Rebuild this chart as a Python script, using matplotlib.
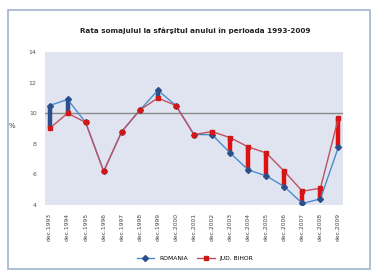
import matplotlib
matplotlib.use("Agg")
import matplotlib.pyplot as plt
from matplotlib.patches import Rectangle

# ---- data ----
years = ["dec.1993", "dec.1994", "dec.1995", "dec.1996", "dec.1997", "dec.1998",
         "dec.1999", "dec.2000", "dec.2001", "dec.2002", "dec.2003", "dec.2004",
         "dec.2005", "dec.2006", "dec.2007", "dec.2008", "dec.2009"]
romania = [10.5, 10.9, 9.4, 6.2, 8.8, 10.2, 11.5, 10.5, 8.6, 8.6, 7.4, 6.3,
           5.9, 5.2, 4.1, 4.4, 7.8]
judet = [9.0, 10.0, 9.4, 6.2, 8.8, 10.2, 11.0, 10.5, 8.6, 8.8, 8.4, 7.8,
         7.4, 6.2, 4.9, 5.1, 9.7]
yticks = [4, 6, 8, 10, 12, 14]
title = "Rata somajului la sfârşitul anului în perioada 1993-2009"

fig = plt.figure(figsize=(3.76, 2.71), dpi=100)
fig.patch.set_facecolor("white")

# outer chart frame
fig.patches.append(Rectangle((8 / 376, 2 / 271), 362 / 376, 259 / 271,
                             transform=fig.transFigure, fill=False,
                             edgecolor="#9fb3cc", linewidth=1.2))

ax = fig.add_axes([45 / 376, 66 / 271, 298 / 376, 153 / 271])
ax.set_facecolor("#dfe4f0")
x = list(range(len(years)))

# up/down bars between the two series
for i in x:
    lo, hi = sorted((romania[i], judet[i]))
    if hi - lo > 0.05:
        c = "#e01010" if judet[i] > romania[i] else "#2a4f8a"
        ax.vlines(i, lo, hi, color=c, linewidth=3.2, zorder=2)

ax.plot(x, romania, color="#4a8ccc", linewidth=1.0, marker="D",
        markersize=3, markerfacecolor="#2a4f8a", markeredgecolor="#2a4f8a",
        label="ROMANIA", zorder=3)
ax.plot(x, judet, color="#c05060", linewidth=1.0, marker="s",
        markersize=3.5, markerfacecolor="#d01818", markeredgecolor="#d01818",
        label="JUD. BIHOR", zorder=3)

ax.axhline(10, color="#8a8a8a", linewidth=1.0, zorder=1)

ax.set_ylim(4, 14)
ax.set_xlim(-0.25, len(years) - 0.75)
ax.set_yticks(yticks)
ax.set_yticklabels([str(v) for v in yticks], fontsize=4.5, color="#555555")
ax.set_xticks(x)
ax.set_xticklabels(years, rotation=90, fontsize=4.3, color="#444444")
ax.tick_params(length=0, pad=6)
for s in ax.spines.values():
    s.set_visible(False)
ax.set_ylabel("%", fontsize=5, rotation=0, color="#444444", labelpad=12)

fig.text(195 / 376, 1 - 31 / 271, title, ha="center", va="center",
         fontsize=5.2, fontweight="bold", color="#222222")

fig.legend(loc="center", bbox_to_anchor=(195 / 376, 1 - 258 / 271), ncol=2,
           fontsize=4.3, frameon=False, handlelength=3, columnspacing=1.5)

fig.savefig("out.png", dpi=100)
